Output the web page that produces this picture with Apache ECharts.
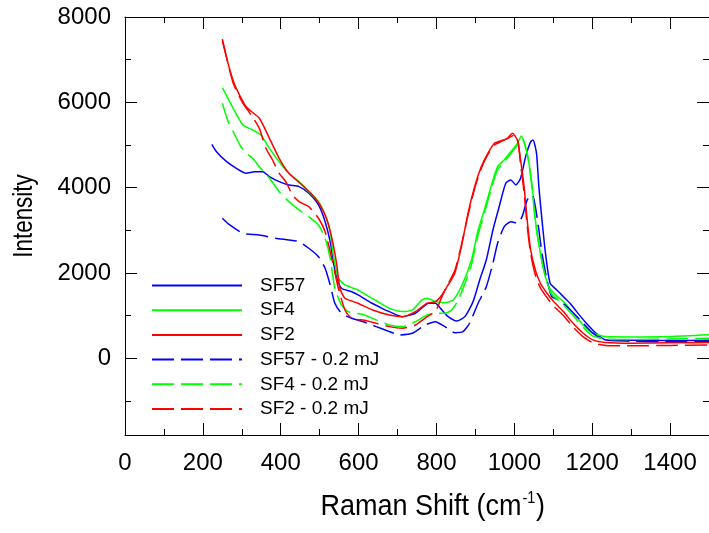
<!DOCTYPE html>
<html>
<head>
<meta charset="utf-8">
<script src="https://cdn.jsdelivr.net/npm/echarts@6/dist/echarts.min.js"></script>
<style>
html,body{margin:0;padding:0;background:#fff;}
#chart{width:709px;height:533px;}
</style>
</head>
<body>
<div id="chart"></div>
<script>
// ---- data ----
const seriesNames = ['SF57', 'SF4', 'SF2', 'SF57 - 0.2 mJ', 'SF4 - 0.2 mJ', 'SF2 - 0.2 mJ'];

const sf57X = [223,235,261,286,311,333,354,371,396,421,447,472,497,514,527,535,544,556,582,600,632,660,679,712,746,780,797,814,830,852,873,894,911,928,945,961,978,991,1004,1016,1029,1042,1048,1057,1063,1071,1080,1092,1109,1126,1143,1160,1185,1210,1235,1300,1400,1500];
const sf57Y = [5015,4842,4608,4453,4335,4374,4374,4257,4140,4061,4022,3866,3593,3202,2733,2264,1875,1640,1560,1480,1300,1170,1093,975,1055,1289,1289,1132,975,874,975,1327,1835,2304,3007,3553,4101,4179,4062,4218,4726,5077,5116,4804,4022,3241,2461,1757,1601,1444,1289,1093,820,586,429,420,415,420];

const sf4X = [250,278,303,328,349,371,396,421,447,472,497,514,527,535,548,565,598,620,645,679,712,738,763,776,797,822,843,864,890,907,923,940,957,974,991,1008,1018,1033,1046,1054,1067,1080,1090,1110,1126,1151,1177,1202,1235,1300,1400,1500];
const sf4Y = [6342,5859,5468,5351,5233,4921,4608,4335,4140,3905,3671,3358,2967,2421,1875,1718,1601,1480,1350,1172,1093,1132,1366,1406,1327,1303,1366,1678,2304,3007,3476,4022,4491,4648,4842,5039,5210,4804,4022,3241,2461,1913,1650,1450,1327,1055,780,586,507,500,510,550];

const sf2X = [250,265,282,311,345,371,396,421,455,489,510,523,535,544,552,565,598,636,679,712,746,776,797,814,830,847,864,881,898,915,932,949,966,982,995,1008,1016,1025,1033,1042,1054,1067,1084,1101,1126,1151,1177,1202,1235,1300,1400,1500];
const sf2Y = [7483,6900,6405,5897,5625,5156,4687,4335,4061,3750,3436,3124,2655,2187,1640,1406,1289,1132,1015,975,1093,1289,1327,1484,1718,1992,2616,3398,4022,4491,4804,5039,5100,5156,5273,5116,4648,4022,3241,2538,2069,1757,1523,1327,1093,820,586,429,366,350,360,370];

const sf57lX = [250,269,303,345,387,421,447,472,497,514,527,539,556,582,610,645,675,704,738,771,797,822,847,868,885,907,928,945,957,974,991,1008,1020,1033,1046,1054,1063,1071,1084,1096,1110,1130,1150,1175,1200,1230,1300,1400,1500];
const sf57lY = [3281,3124,2929,2890,2812,2772,2733,2578,2381,2109,1718,1289,1055,937,860,741,640,546,586,780,858,741,600,624,820,1289,1678,2226,2695,3085,3202,3163,3319,3710,3827,3553,3007,2461,1835,1444,1380,1250,1080,840,600,430,400,390,400];

const sf4lX = [250,265,278,295,311,328,345,371,396,421,447,472,497,514,527,539,556,573,594,615,645,679,712,746,776,797,822,839,856,875,890,907,923,940,957,974,991,1008,1020,1035,1046,1054,1067,1080,1096,1126,1151,1177,1202,1235,1300,1400,1500];
const sf4lY = [5976,5546,5311,4999,4804,4687,4491,4218,3905,3671,3476,3319,3124,2812,2344,1640,1249,1093,1055,1015,898,780,741,858,1015,1055,1055,1132,1366,1800,2200,2900,3400,3950,4420,4600,4800,5000,5150,4700,3950,3200,2450,1900,1500,1250,1000,720,520,450,440,450,470];

const sf2lX = [250,265,278,303,324,345,362,379,396,413,430,447,472,497,514,531,548,565,582,615,645,679,712,746,776,797,814,830,847,864,881,898,915,932,949,966,982,1000,1010,1016,1025,1033,1042,1054,1067,1084,1101,1126,1151,1177,1202,1235,1300,1400,1500];
const sf2lY = [7450,6900,6445,5976,5702,5390,4921,4647,4335,4140,3827,3671,3554,3281,2967,2344,1640,1132,937,890,820,741,703,780,975,1093,1444,1750,2050,2650,3350,3980,4450,4780,5000,5080,5150,5230,5050,4550,3900,3100,2450,1950,1650,1420,1220,1000,730,500,360,300,290,300,310];

const xMajorTicks = [0,200,400,600,800,1000,1200,1400];
const xMinorTicks = [100,300,500,700,900,1100,1300,1500];
const yMajorTicks = [0,2000,4000,6000,8000];
const yMinorTicks = [-1000,1000,3000,5000,7000];

// ---- chart ----
const FONT = '"Liberation Sans", Arial, Helvetica, sans-serif';
const zip = (xs, ys) => xs.map((x, i) => [x, ys[i]]);
const colors = ['#0000ff', '#00ff00', '#ff0000', '#0000ff', '#00ff00', '#ff0000'];
const dataSets = [zip(sf57X, sf57Y), zip(sf4X, sf4Y), zip(sf2X, sf2Y), zip(sf57lX, sf57lY), zip(sf4lX, sf4lY), zip(sf2lX, sf2lY)];

const X_MIN = 0, X_MAX = 1500, Y_MIN = -1800, Y_MAX = 8000;
const plainNum = v => String(v);

function xAxisDef(pos, ticks, len, withLabels, withLine) {
  return {
    type: 'value', position: pos, min: X_MIN, max: X_MAX,
    axisLine: { show: withLine, onZero: false, lineStyle: { color: '#000', width: 1 } },
    axisTick: { show: true, inside: true, length: len, customValues: ticks, lineStyle: { color: '#000', width: 1 } },
    axisLabel: withLabels ? { show: true, customValues: ticks, formatter: plainNum, fontSize: 24, color: '#000', fontFamily: FONT, margin: 16 } : { show: false },
    splitLine: { show: false }
  };
}
function yAxisDef(pos, ticks, len, withLabels, withLine) {
  return {
    type: 'value', position: pos, min: Y_MIN, max: Y_MAX,
    axisLine: { show: withLine, onZero: false, lineStyle: { color: '#000', width: 1 } },
    axisTick: { show: true, inside: true, length: len, customValues: ticks, lineStyle: { color: '#000', width: 1 } },
    axisLabel: withLabels ? { show: true, customValues: ticks, formatter: plainNum, fontSize: 24, color: '#000', fontFamily: FONT, margin: 14 } : { show: false },
    splitLine: { show: false }
  };
}

const chart = echarts.init(document.getElementById('chart'), null, { renderer: 'canvas' });
chart.setOption({
  animation: false,
  backgroundColor: '#fff',
  grid: { left: 125, right: -8.5, top: 17, bottom: 98, containLabel: false },
  xAxis: [
    xAxisDef('bottom', xMajorTicks, 12, true, true),
    xAxisDef('bottom', xMinorTicks, 6, false, false),
    xAxisDef('top', xMajorTicks, 12, false, true),
    xAxisDef('top', xMinorTicks, 6, false, false)
  ],
  yAxis: [
    yAxisDef('left', yMajorTicks, 12, true, true),
    yAxisDef('left', yMinorTicks, 6, false, false),
    yAxisDef('right', yMajorTicks, 12, false, true),
    yAxisDef('right', yMinorTicks, 6, false, false)
  ],
  legend: {
    orient: 'vertical', left: 146, top: 271,
    itemWidth: 90, itemHeight: 14, itemGap: 5.7,
    itemStyle: { opacity: 0, borderWidth: 0 },
    textStyle: { fontSize: 19, color: '#000', fontFamily: FONT, lineHeight: 19, padding: [0, 0, 0, 13] },
    data: seriesNames
  },
  series: seriesNames.map((name, i) => ({
    name: name,
    type: 'line',
    xAxisIndex: 0, yAxisIndex: 0,
    data: dataSets[i],
    symbol: 'none', showSymbol: false,
    smooth: 0.2,
    lineStyle: { color: colors[i], width: 1.5, type: i < 3 ? 'solid' : [22, 7] },
    itemStyle: { color: colors[i] }
  })),
  graphic: [
    {
      type: 'group', x: 432, y: 507, scaleX: 0.9,
      children: [
        { type: 'text', x: -124, y: 0, style: { text: 'Raman Shift (cm', fontSize: 30, fontFamily: FONT, fill: '#000', align: 'left', verticalAlign: 'middle' } },
        { type: 'text', x: 100.5, y: -8, style: { text: '-1', fontSize: 16, fontFamily: FONT, fill: '#000', align: 'left', verticalAlign: 'middle' } },
        { type: 'text', x: 115.5, y: 0, style: { text: ')', fontSize: 30, fontFamily: FONT, fill: '#000', align: 'left', verticalAlign: 'middle' } }
      ]
    },
    {
      type: 'text', x: 24, y: 216, rotation: Math.PI / 2, scaleX: 0.8,
      style: { text: 'Intensity', fontSize: 28, fontFamily: FONT, fill: '#000', align: 'center', verticalAlign: 'middle' }
    }
  ]
});
</script>
</body>
</html>
